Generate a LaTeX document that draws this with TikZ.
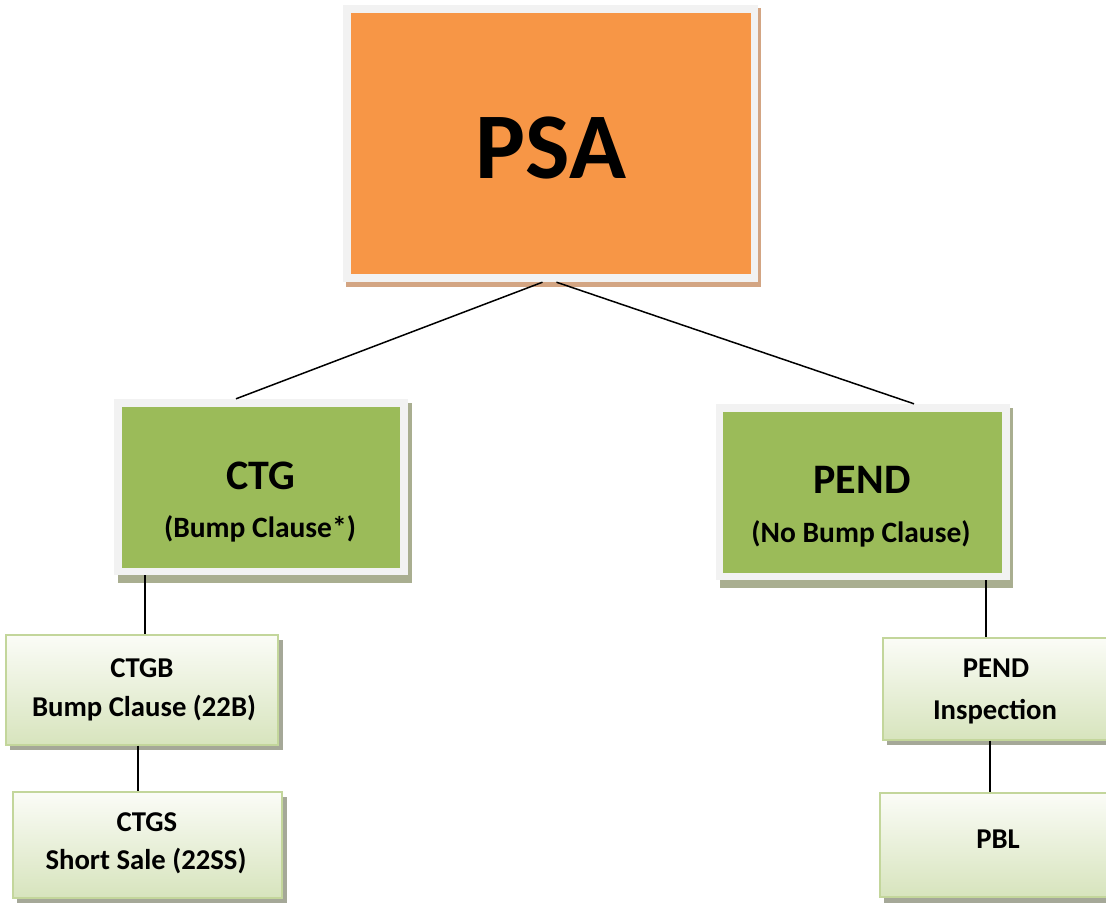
\documentclass[tikz,border=0pt]{standalone}
\usepackage{fontspec}
\setmainfont{Carlito}
\usetikzlibrary{fit}
\definecolor{psaorange}{HTML}{F79646}
\definecolor{psashadow}{HTML}{D3A583}
\definecolor{framegrey}{HTML}{F2F2F2}
\definecolor{olivegreen}{HTML}{9BBB59}
\definecolor{greenshadow}{HTML}{A9AE90}
\definecolor{lightborder}{HTML}{C3D69B}
\definecolor{lighttop}{HTML}{FBFCF7}
\definecolor{lightbottom}{HTML}{D7E4BD}
\definecolor{smallshadow}{HTML}{A5A898}
\tikzset{
  framebox/.style={fill=framegrey, draw=none, inner sep=0pt},
  leafbox/.style={draw=lightborder, line width=1.2pt, top color=lighttop, bottom color=lightbottom, inner sep=0pt},
  conn/.style={draw=black, line width=1.5pt},
  vconn/.style={draw=black, line width=2pt},
  lbl/.style={anchor=base, inner sep=0pt},
  bigfont/.style={font=\fontsize{94}{100}\selectfont\bfseries},
  midfont/.style={font=\fontsize{42}{46}\selectfont\bfseries},
  subfont/.style={font=\fontsize{29.5}{32}\selectfont\bfseries},
  smallfont/.style={font=\fontsize{28.7}{32}\selectfont\bfseries},
}
\begin{document}
\begin{tikzpicture}[x=1pt,y=-1pt]
\useasboundingbox (0,0) rectangle (1106,903);
% PSA
\fill[psashadow] (346,8) rectangle (761,287);
\node[framebox, fit={(343,5) (758,282)}] (psa) {};
\fill[psaorange] (351,13) rectangle (751,274);
\node[lbl, bigfont] (psat) at (551,178) {PSA};
% CTG
\fill[greenshadow] (118,403) rectangle (412,583);
\node[framebox, fit={(114,399) (408,575)}] (ctg) {};
\fill[olivegreen] (122,407) rectangle (400,568);
\node[lbl, midfont] (ctgt) at (261,489) {CTG};
\node[lbl, subfont] (ctgs) at (260,537) {(Bump Clause*)};
% PEND
\fill[greenshadow] (720,408) rectangle (1013,588);
\node[framebox, fit={(716,404) (1010,580)}] (pend) {};
\fill[olivegreen] (723,412) rectangle (1002,573);
\node[lbl, midfont] (pendt) at (862,493) {PEND};
\node[lbl, subfont] (pends) at (861,542) {(No Bump Clause)};
% CTGB
\fill[smallshadow] (10,640) rectangle (283,750);
\node[leafbox, fit={(6,635) (278,745)}] (ctgb) {};
\node[lbl, smallfont] (ctgba) at (142,677) {CTGB};
\node[lbl, smallfont] (ctgbb) at (144,716) {Bump Clause (22B)};
% CTGS
\fill[smallshadow] (17,797) rectangle (287,903);
\node[leafbox, fit={(13,792) (282,898)}] (ctgsb) {};
\node[lbl, smallfont] (ctgsa) at (147,831) {CTGS};
\node[lbl, smallfont] (ctgsbb) at (146,869) {Short Sale (22SS)};
% PEND Inspection
\fill[smallshadow] (887,643) rectangle (1110,745);
\node[leafbox, fit={(883,638) (1108,740)}] (pendi) {};
\node[lbl, smallfont] (pendia) at (996,677) {PEND};
\node[lbl, smallfont] (pendib) at (995,719) {Inspection};
% PBL
\fill[smallshadow] (884,798) rectangle (1110,903);
\node[leafbox, fit={(880,793) (1108,897)}] (pbl) {};
\node[lbl, smallfont] (pblt) at (998,848) {PBL};
% connectors
\draw[conn] ([xshift=-8pt]psa.south) -- ([xshift=-25pt]ctg.north);
\draw[conn] ([xshift=6pt]psa.south) -- ([xshift=51pt]pend.north);
\draw[vconn] (ctg.south -| 145,0) -- (ctgb.north -| 145,0);
\draw[vconn] (ctgb.south -| 138,0) -- (ctgsb.north -| 138,0);
\draw[vconn] (pend.south -| 986,0) -- (pendi.north -| 986,0);
\draw[vconn] (pendi.south -| 990,0) -- (pbl.north -| 990,0);
\end{tikzpicture}
\end{document}
